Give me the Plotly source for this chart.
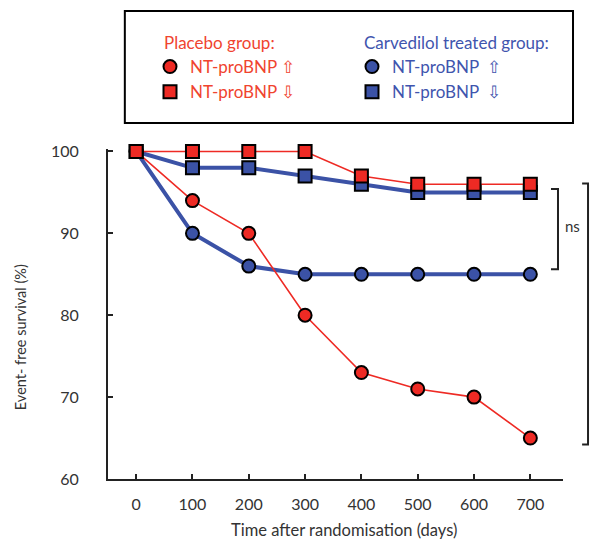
import plotly.graph_objects as go

days = [0, 100, 200, 300, 400, 500, 600, 700]
placebo_high = [100, 94, 90, 80, 73, 71, 70, 65]
placebo_low = [100, 100, 100, 100, 97, 96, 96, 96]
carv_high = [100, 90, 86, 85, 85, 85, 85, 85]
carv_low = [100, 98, 98, 97, 96, 95, 95, 95]

x_ticks = [0, 100, 200, 300, 400, 500, 600, 700]
y_ticks = [60, 70, 80, 90, 100]

RED = "#ee2a24"
RED_TXT = "#f0442f"
BLUE = "#3b52a6"
BLUE_TXT = "#3f55ae"
FONT = "Lato"

fig = go.Figure()

# lines
for y, col, w in [(carv_high, BLUE, 4), (carv_low, BLUE, 4),
                  (placebo_high, RED, 1.6), (placebo_low, RED, 1.6)]:
    fig.add_trace(go.Scatter(x=days, y=y, mode="lines", line=dict(color=col, width=w),
                             showlegend=False, cliponaxis=False, hoverinfo="skip"))

# markers
specs = [
    (carv_high, BLUE, "circle", "NT-proBNP  \u21e7", "legend2", 1),
    (carv_low, BLUE, "square", "NT-proBNP  \u21e9", "legend2", 2),
    (placebo_high, RED, "circle", "NT-proBNP \u21e7", "legend", 1),
    (placebo_low, RED, "square", "NT-proBNP \u21e9", "legend", 2),
]
for y, col, sym, name, lg, rank in specs:
    fig.add_trace(go.Scatter(x=days, y=y, mode="markers", name=name, legend=lg,
                             legendrank=rank,
                             marker=dict(color=col, symbol=sym, size=13,
                                         line=dict(color="black", width=2)),
                             cliponaxis=False))

Y_TOP = 100.3
PX_PER_UNIT = 328 / (Y_TOP - 60)

shapes = [
    dict(type="rect", xref="paper", yref="paper", x0=0.037, x1=1.022, y0=1.085, y1=1.427,
         line=dict(color="black", width=2)),
    # ns bracket
    dict(type="path", xref="paper", yref="y",
         path="M 0.9736,95.4 L 0.9890,95.4 L 0.9890,85.6 L 0.9736,85.6",
         line=dict(color="#222", width=2)),
    dict(type="path", xref="paper", yref="y",
         path="M 1.042,96.1 L 1.055,96.1 L 1.055,64.2 L 1.042,64.2",
         line=dict(color="#222", width=2)),
]

fig.update_layout(
    width=594, height=539,
    margin=dict(l=108, r=31, t=149, b=60, autoexpand=False),
    paper_bgcolor="white", plot_bgcolor="white",
    font=dict(family=FONT, color="#333"),
    shapes=shapes,
    annotations=[
        dict(text="Placebo group:", xref="paper", yref="paper", x=(162 - 108) / 455,
             y=(479 - 43) / 330, xanchor="left", yanchor="middle", showarrow=False,
             font=dict(size=17, color=RED_TXT, family=FONT)),
        dict(text="Carvedilol treated group:", xref="paper", yref="paper",
             x=(362 - 108) / 455, y=(479 - 43) / 330, xanchor="left", yanchor="middle",
             showarrow=False, font=dict(size=17, color=BLUE_TXT, family=FONT)),
        dict(text="ns", xref="paper", yref="y", x=1.0, y=90.85, xanchor="left",
             yanchor="middle", showarrow=False, font=dict(size=15, color="#333", family=FONT)),
        dict(text="Time after randomisation (days)", xref="paper", yref="paper",
             x=0.519, y=(479 - 530) / 330, xanchor="center", yanchor="middle", showarrow=False,
             font=dict(size=16.5, color="#333", family=FONT)),
        dict(text="Event- free survival (%)", xref="paper", yref="paper",
             x=-0.193, y=(479 - 337) / 330, xanchor="center", yanchor="middle", textangle=-90,
             showarrow=False, font=dict(size=14.5, color="#333", family=FONT)),
    ],
    legend=dict(x=(150 - 108) / 455, y=(479 - 49) / 330, xanchor="left", yanchor="top",
                font=dict(color=RED_TXT, size=17, family=FONT),
                bgcolor="rgba(0,0,0,0)", tracegroupgap=0),
    legend2=dict(x=(352 - 108) / 455, y=(479 - 49) / 330, xanchor="left", yanchor="top",
                 font=dict(color=BLUE_TXT, size=17, family=FONT),
                 bgcolor="rgba(0,0,0,0)", tracegroupgap=0),
    xaxis=dict(range=[-50, 758], tickvals=x_ticks, showline=True, linecolor="#222", linewidth=2,
               ticks="inside", ticklen=5, tickwidth=2, tickcolor="#222", showgrid=False,
               zeroline=False, tickfont=dict(size=16, color="#333"), ticklabelstandoff=10,
               automargin=False),
    yaxis=dict(range=[60, Y_TOP], tickvals=y_ticks, showline=True, linecolor="#222", linewidth=2,
               ticks="inside", ticklen=5, tickwidth=2, tickcolor="#222", showgrid=False,
               zeroline=False, tickfont=dict(size=16, color="#333"), ticklabelstandoff=24,
               automargin=False),
)
# box/legend refer to paper coords of a 330 px tall plot area
fig.layout.shapes[0].update(y0=(479 - 123) / 330, y1=(479 - 11) / 330)

fig.write_html("out.html", post_script="document.body.style.margin='0';",
               config={"displayModeBar": False})
